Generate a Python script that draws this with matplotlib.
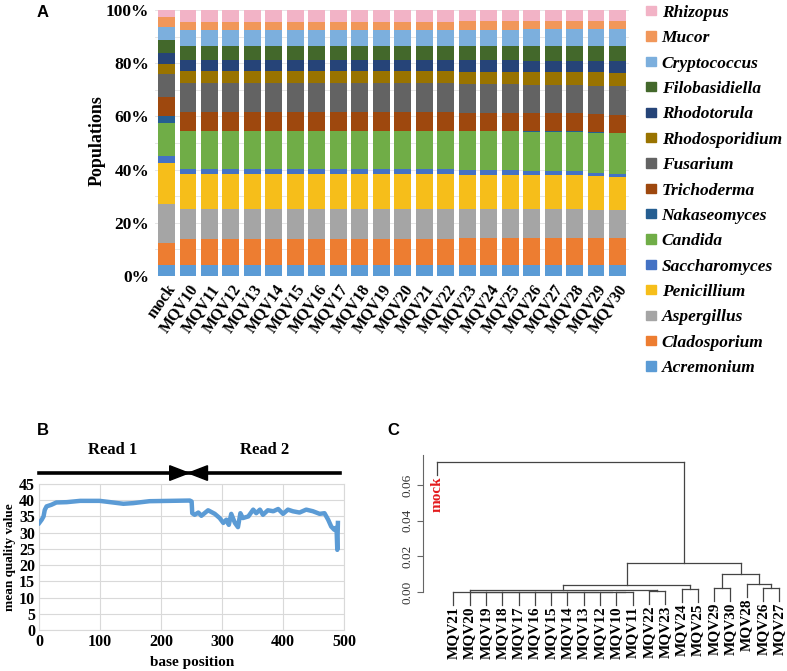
import numpy as np
import matplotlib
matplotlib.use('Agg')
import matplotlib.pyplot as plt
from matplotlib.patches import Patch, Polygon

plt.rcParams['font.family'] = 'Liberation Serif'

# ---- panel A data (percent of reads) ----
samples = ['mock', 'MQV10', 'MQV11', 'MQV12', 'MQV13', 'MQV14', 'MQV15', 'MQV16', 'MQV17',
           'MQV18', 'MQV19', 'MQV20', 'MQV21', 'MQV22', 'MQV23', 'MQV24', 'MQV25', 'MQV26',
           'MQV27', 'MQV28', 'MQV29', 'MQV30']
genera = ['Acremonium', 'Cladosporium', 'Aspergillus', 'Penicillium', 'Saccharomyces', 'Candida',
          'Nakaseomyces', 'Trichoderma', 'Fusarium', 'Rhodosporidium', 'Rhodotorula',
          'Filobasidiella', 'Cryptococcus', 'Mucor', 'Rhizopus']
colors = ['#5B9BD5', '#ED7D31', '#A5A5A5', '#F6BE1A', '#4472C4', '#70AD47', '#255E91', '#9E480E',
          '#636363', '#997300', '#264478', '#43682B', '#7CAFDD', '#F1975A', '#F2B3C6']

acremonium = [4.1, 4.1, 4.1, 4.1, 4.1, 4.1, 4.1, 4.1, 4.1, 4.1, 4.1, 4.1, 4.1, 4.1, 4.1, 4.1, 4.1, 4.1, 4.1, 4.1, 4.1, 4.1]
cladosporium = [8.1, 9.8, 9.8, 9.8, 9.8, 9.8, 9.8, 9.8, 9.8, 9.8, 9.8, 9.8, 9.8, 9.8, 10.0, 10.0, 10.0, 10.1, 10.1, 10.1, 10.1, 10.3]
aspergillus = [14.8, 11.2, 11.2, 11.2, 11.2, 11.2, 11.2, 11.2, 11.2, 11.2, 11.2, 11.2, 11.2, 11.2, 11.0, 11.0, 11.0, 10.8, 10.8, 10.8, 10.7, 10.4]
penicillium = [15.5, 13.2, 13.2, 13.2, 13.2, 13.2, 13.2, 13.2, 13.2, 13.2, 13.2, 13.2, 13.2, 13.2, 13.0, 13.0, 13.0, 12.8, 12.8, 12.8, 12.6, 12.5]
saccharomyces = [2.5, 1.8, 1.8, 1.8, 1.8, 1.8, 1.8, 1.8, 1.8, 1.8, 1.8, 1.8, 1.8, 1.8, 1.8, 1.8, 1.8, 1.6, 1.6, 1.6, 1.3, 1.2]
candida = [12.5, 14.4, 14.4, 14.4, 14.4, 14.4, 14.4, 14.4, 14.4, 14.4, 14.4, 14.4, 14.4, 14.4, 14.4, 14.4, 14.4, 14.8, 14.8, 14.8, 15.1, 15.3]
nakaseomyces = [2.5, 0.1, 0.1, 0.1, 0.1, 0.1, 0.1, 0.1, 0.1, 0.1, 0.1, 0.1, 0.1, 0.1, 0.1, 0.1, 0.1, 0.1, 0.1, 0.1, 0.1, 0.1]
trichoderma = [7.3, 7.2, 7.2, 7.2, 7.2, 7.2, 7.2, 7.2, 7.2, 7.2, 7.2, 7.2, 7.2, 7.2, 7.0, 7.0, 7.0, 6.9, 6.9, 6.9, 6.9, 6.8]
fusarium = [8.5, 10.6, 10.6, 10.6, 10.6, 10.6, 10.6, 10.6, 10.6, 10.6, 10.6, 10.6, 10.6, 10.6, 10.6, 10.6, 10.6, 10.5, 10.5, 10.5, 10.7, 10.9]
rhodosporidium = [4.0, 4.7, 4.7, 4.7, 4.7, 4.7, 4.7, 4.7, 4.7, 4.7, 4.7, 4.7, 4.7, 4.7, 4.8, 4.8, 4.8, 4.9, 4.9, 4.9, 5.0, 5.0]
rhodotorula = [4.1, 4.1, 4.1, 4.1, 4.1, 4.1, 4.1, 4.1, 4.1, 4.1, 4.1, 4.1, 4.1, 4.1, 4.2, 4.2, 4.2, 4.3, 4.3, 4.3, 4.4, 4.4]
filobasidiella = [4.9, 5.4, 5.4, 5.4, 5.4, 5.4, 5.4, 5.4, 5.4, 5.4, 5.4, 5.4, 5.4, 5.4, 5.5, 5.5, 5.5, 5.6, 5.6, 5.6, 5.7, 5.8]
cryptococcus = [4.8, 5.9, 5.9, 5.9, 5.9, 5.9, 5.9, 5.9, 5.9, 5.9, 5.9, 5.9, 5.9, 5.9, 6.0, 6.0, 6.0, 6.2, 6.2, 6.2, 6.3, 6.4]
mucor = [3.8, 3.1, 3.1, 3.1, 3.1, 3.1, 3.1, 3.1, 3.1, 3.1, 3.1, 3.1, 3.1, 3.1, 3.1, 3.1, 3.1, 3.0, 3.0, 3.0, 3.0, 3.0]
rhizopus = [2.5, 4.4, 4.4, 4.4, 4.4, 4.4, 4.4, 4.4, 4.4, 4.4, 4.4, 4.4, 4.4, 4.4, 4.3, 4.3, 4.3, 4.2, 4.2, 4.2, 4.1, 4.0]

# ---- panel B data ----
base_pos = [0, 4, 7, 9, 12, 20, 28, 45, 67, 99, 121, 138, 154, 181, 247, 250, 251, 255, 261, 266,
            277, 288, 296, 302, 307, 311, 315, 321, 326, 330, 334, 343, 351, 356, 362, 367, 375,
            384, 392, 400, 408, 416, 427, 438, 449, 460, 468, 474, 479, 484, 487, 488, 489, 490]
quality = [33.0, 34.0, 35.0, 37.0, 38.1, 38.6, 39.3, 39.4, 39.8, 39.8, 39.3, 38.9, 39.1, 39.7, 39.9,
           39.6, 36.0, 35.5, 36.2, 35.2, 36.9, 35.8, 34.5, 33.0, 34.0, 32.4, 35.8, 33.0, 31.7, 36.0,
           34.5, 35.0, 37.1, 36.0, 37.1, 35.5, 36.9, 36.6, 37.3, 35.8, 37.1, 36.6, 36.2, 37.1, 36.6,
           35.8, 36.0, 34.0, 31.9, 30.9, 31.5, 30.0, 24.7, 33.0]

# ---- panel C data (leaf order and merges) ----
leaves = ['mock', 'MQV21', 'MQV20', 'MQV19', 'MQV18', 'MQV17', 'MQV16', 'MQV15', 'MQV14', 'MQV13',
          'MQV12', 'MQV10', 'MQV11', 'MQV22', 'MQV23', 'MQV24', 'MQV25', 'MQV29', 'MQV30', 'MQV28',
          'MQV26', 'MQV27']
merges = [('MQV10', 'MQV11', 0.00002), ('MQV12', 'n0', 0.00004), ('MQV13', 'n1', 0.00006),
          ('MQV14', 'n2', 0.00008), ('MQV15', 'n3', 0.0001), ('MQV16', 'n4', 0.00012),
          ('MQV17', 'n5', 0.00014), ('MQV18', 'n6', 0.00016), ('MQV19', 'n7', 0.00018),
          ('MQV20', 'n8', 0.0002), ('MQV21', 'n9', 0.00025), ('MQV22', 'MQV23', 0.0006),
          ('n10', 'n11', 0.0009), ('MQV24', 'MQV25', 0.0015), ('n12', 'n13', 0.0038),
          ('MQV29', 'MQV30', 0.0021), ('MQV26', 'MQV27', 0.0021), ('MQV28', 'n16', 0.0043),
          ('n15', 'n17', 0.0099), ('n14', 'n18', 0.0162), ('mock', 'n19', 0.0729)]

fig = plt.figure(figsize=(7.87, 6.71), dpi=100)

# ================= A =================
axA = fig.add_axes([0.1966, 0.5887, 0.603, 0.3964])
data = np.array([acremonium, cladosporium, aspergillus, penicillium, saccharomyces, candida,
                 nakaseomyces, trichoderma, fusarium, rhodosporidium, rhodotorula, filobasidiella,
                 cryptococcus, mucor, rhizopus])
data = data / data.sum(axis=0) * 100
x = np.arange(len(samples))
bottom = np.zeros(len(samples))
for i in range(len(genera)):
    axA.bar(x, data[i], 0.79, bottom=bottom, color=colors[i], label=genera[i], zorder=2)
    bottom += data[i]
axA.set_xlim(-0.55, len(samples) - 0.45)
axA.set_ylim(0, 100)
axA.set_yticks([0, 20, 40, 60, 80, 100])
axA.set_yticklabels(['0%', '20%', '40%', '60%', '80%', '100%'], fontsize=12.5, fontweight='bold')
axA.set_yticks(np.arange(0, 101, 10), minor=True)
axA.grid(axis='y', which='both', color='#E6E6E6', lw=0.7, zorder=0)
axA.set_xticks(x)
axA.set_xticklabels(samples, rotation=55, ha='right', va='top', rotation_mode='anchor',
                    fontsize=11.5, fontweight='bold')
axA.tick_params(axis='both', which='both', length=0, pad=4)
for s in axA.spines.values():
    s.set_visible(False)
fig.text(0.123, 0.79, 'Populations', rotation=90, ha='center', va='center',
         fontsize=13, fontweight='bold')

handles = [Patch(color=colors[i]) for i in range(len(genera))][::-1]
fig.legend(handles, genera[::-1], loc='upper left', bbox_to_anchor=(0.801, 1.016), frameon=False,
           prop={'family': 'Liberation Serif', 'weight': 'bold', 'style': 'italic', 'size': 12.5},
           handlelength=0.6, handleheight=0.45, handletextpad=0.3, labelspacing=0.54)

# ================= B =================
axB = fig.add_axes([0.0499, 0.0611, 0.3872, 0.2176])
axB.plot(base_pos, quality, color='#5B9BD5', lw=3.2, solid_joinstyle='round', zorder=3)
axB.set_xlim(0, 500)
axB.set_ylim(0, 45)
axB.set_xticks([0, 100, 200, 300, 400, 500])
axB.set_yticks(np.arange(0, 46, 5))
axB.grid(color='#D9D9D9', lw=0.8)
for s in axB.spines.values():
    s.set_color('#D9D9D9')
axB.tick_params(length=0, labelsize=11.5, pad=3)
for lab in axB.get_xticklabels() + axB.get_yticklabels():
    lab.set_fontweight('bold')
axB.set_xlabel('base position', fontsize=11, fontweight='bold', labelpad=4)
axB.set_ylabel('mean quality value', fontsize=9.5, fontweight='bold', labelpad=2)

trB = axB.get_xaxis_transform()
axB.plot([0, 493], [1.075, 1.075], color='black', lw=2.6, transform=trB, clip_on=False)
axB.add_patch(Polygon([[214, 1.025], [214, 1.125], [245, 1.075]], closed=True, color='black',
                      transform=trB, clip_on=False))
axB.add_patch(Polygon([[276, 1.025], [276, 1.125], [245, 1.075]], closed=True, color='black',
                      transform=trB, clip_on=False))
axB.text(121, 1.235, 'Read 1', transform=trB, ha='center', va='center', fontsize=12, fontweight='bold')
axB.text(370, 1.235, 'Read 2', transform=trB, ha='center', va='center', fontsize=12, fontweight='bold')

# ================= C =================
axC = fig.add_axes([0.5375, 0.0899, 0.4632, 0.232])
pos = {name: float(i) for i, name in enumerate(leaves)}
hgt = {name: None for name in leaves}
parent_h = {}
lc = '#444444'
for k, (a, b, h) in enumerate(merges):
    for c in (a, b):
        if c in leaves:
            parent_h[c] = h
            lo = h - 0.0073
        else:
            lo = hgt[c]
        axC.plot([pos[c], pos[c]], [lo, h], color=lc, lw=0.9, clip_on=False)
    axC.plot([pos[a], pos[b]], [h, h], color=lc, lw=0.9, clip_on=False)
    name = 'n%d' % k
    pos[name] = (pos[a] + pos[b]) / 2
    hgt[name] = h
for name in leaves:
    axC.text(pos[name], parent_h[name] - 0.0073 - 0.0008, name, rotation=90, ha='center', va='top',
             fontsize=11, fontweight='bold', color='#E31A1C' if name == 'mock' else 'black')
axC.set_xlim(-0.86, 21.5)
axC.set_ylim(-0.0105, 0.0768)
axC.set_xticks([])
axC.set_yticks([0, 0.02, 0.04, 0.06])
axC.set_yticklabels(['0.00', '0.02', '0.04', '0.06'], rotation=90, va='center', fontsize=9.5,
                    color='#333333')
for s in ['top', 'right', 'bottom']:
    axC.spines[s].set_visible(False)
axC.spines['left'].set_bounds(0, 0.0768)
axC.spines['left'].set_color('#666666')
axC.tick_params(axis='y', length=4, color='#666666', pad=3)

fig.text(0.054, 0.982, 'A', fontsize=12, fontweight='bold', family='Liberation Sans', ha='center', va='center')
fig.text(0.055, 0.359, 'B', fontsize=12, fontweight='bold', family='Liberation Sans', ha='center', va='center')
fig.text(0.4995, 0.359, 'C', fontsize=12, fontweight='bold', family='Liberation Sans', ha='center', va='center')

fig.savefig('out.png', dpi=100)
